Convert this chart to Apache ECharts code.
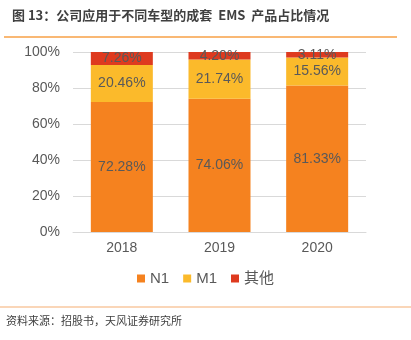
<!DOCTYPE html>
<html><head><meta charset="utf-8">
<script src="https://cdn.jsdelivr.net/npm/echarts@6/dist/echarts.min.js"></script>
<style>html,body{margin:0;padding:0;background:#fff}#c{width:411px;height:340px}</style>
</head><body><div id="c"></div>
<script>
const categories = ['2018', '2019', '2020'];
const n1 = [72.28, 74.06, 81.33];
const m1 = [20.46, 21.74, 15.56];
const other = [7.26, 4.20, 3.11];
const yTicks = ['0%', '20%', '40%', '60%', '80%', '100%'];

const font = '"Liberation Sans", Arial, "Noto Sans CJK SC", sans-serif';
const chart = echarts.init(document.getElementById('c'));
const lbl = {show: true, position: 'inside', color: '#595959', fontSize: 14, fontFamily: font,
  formatter: p => p.value.toFixed(2) + '%'};
chart.setOption({
  animation: false,
  textStyle: {fontFamily: font},
  graphic: [
    {type: 'text', left: 12, top: 9, style: {text: '图 13：公司应用于不同车型的成套  EMS  产品占比情况', fill: '#404040', font: 'bold 13px "Noto Sans CJK SC", sans-serif'}},
    {type: 'line', shape: {x1: 4, y1: 37, x2: 397, y2: 37}, style: {stroke: '#F7A046', lineWidth: 1.5}},
    {type: 'line', shape: {x1: 0, y1: 307, x2: 411, y2: 307}, style: {stroke: '#F9C9A0', lineWidth: 1.5}},
    {type: 'text', left: 6, top: 315, style: {text: '资料来源：招股书，天风证券研究所', fill: '#404040', font: '11px "Noto Sans CJK SC", sans-serif'}}
  ],
  grid: {left: 73, right: 45, top: 52, bottom: 108},
  legend: {bottom: 49, left: 'center', itemWidth: 8, itemHeight: 8, itemGap: 14,
    textStyle: {color: '#595959', fontSize: 15, fontFamily: font},
    data: [{name: 'N1', icon: 'rect'}, {name: 'M1', icon: 'rect'}, {name: '其他', icon: 'rect'}]},
  xAxis: {type: 'category', data: categories,
    axisLine: {lineStyle: {color: '#d9d9d9'}}, axisTick: {show: false},
    axisLabel: {color: '#595959', fontSize: 14, margin: 9}},
  yAxis: {type: 'value', min: 0, max: 100, interval: 20,
    axisLabel: {color: '#595959', fontSize: 14, margin: 13, formatter: v => yTicks[v / 20]},
    splitLine: {lineStyle: {color: '#d9d9d9'}}},
  series: [
    {name: 'N1', type: 'bar', stack: 's', data: n1, barWidth: 62, itemStyle: {color: '#F5821F'}, label: lbl},
    {name: 'M1', type: 'bar', stack: 's', data: m1, itemStyle: {color: '#FBBA2B'}, label: lbl},
    {name: '其他', type: 'bar', stack: 's', data: other, itemStyle: {color: '#DE3A1F'}, label: lbl}
  ]
});
</script></body></html>
